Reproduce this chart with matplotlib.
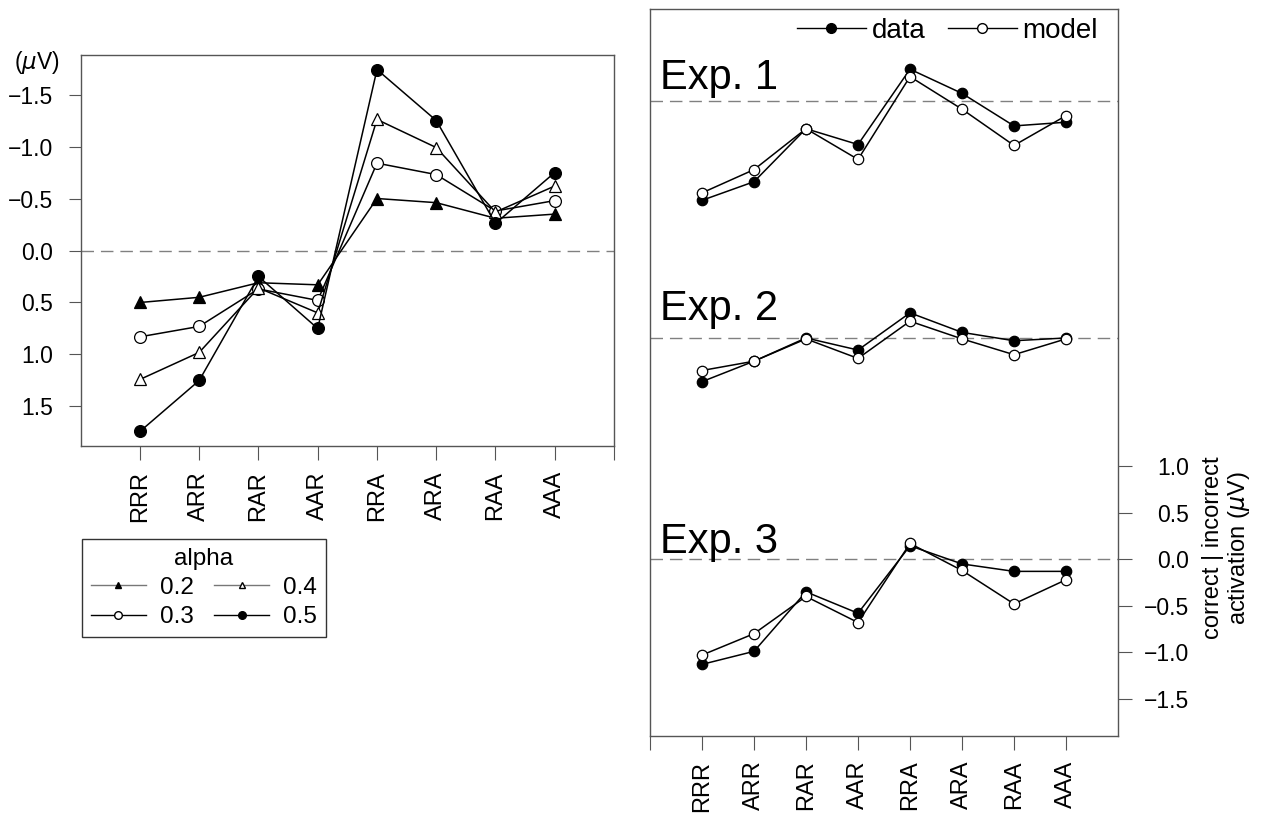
import matplotlib
matplotlib.use('Agg')
import matplotlib.pyplot as plt
from matplotlib.lines import Line2D
import numpy as np

plt.rcParams['font.family'] = ['Liberation Sans', 'DejaVu Sans']
plt.rcParams['mathtext.fontset'] = 'dejavusans'

# ---------------- data ----------------
conditions = ['RRR', 'ARR', 'RAR', 'AAR', 'RRA', 'ARA', 'RAA', 'AAA']
alpha_levels = ['0.2', '0.3', '0.4', '0.5']
alpha02 = [0.50, 0.45, 0.31, 0.33, -0.50, -0.46, -0.31, -0.35]
alpha03 = [0.83, 0.73, 0.37, 0.48, -0.84, -0.73, -0.38, -0.48]
alpha04 = [1.24, 0.98, 0.36, 0.60, -1.26, -0.99, -0.37, -0.62]
alpha05 = [1.74, 1.25, 0.25, 0.75, -1.74, -1.25, -0.26, -0.75]

exp_names = ['Exp. 1', 'Exp. 2', 'Exp. 3']
exp1_data = [-1.07, -0.87, -0.30, -0.47, 0.34, 0.08, -0.27, -0.23]
exp1_model = [-0.99, -0.74, -0.30, -0.63, 0.26, -0.09, -0.48, -0.16]
exp2_data = [-0.47, -0.25, 0.00, -0.13, 0.27, 0.06, -0.03, 0.00]
exp2_model = [-0.35, -0.25, -0.01, -0.22, 0.18, -0.01, -0.18, -0.01]
exp3_data = [-1.13, -0.99, -0.35, -0.58, 0.145, -0.05, -0.13, -0.13]
exp3_model = [-1.03, -0.80, -0.40, -0.68, 0.17, -0.12, -0.48, -0.22]

# vertical offsets of the stacked experiments (layout)
exp_offsets = [4.93, 2.38, 0.0]
exp_label_y = [5.06, 2.57, 0.07]

W, H = 1267, 813
fig = plt.figure(figsize=(W / 100, H / 100), dpi=100)

spine_col = '#555555'
dash_col = '#808080'
FS_Y = 16.5
FS_X = 17
FS_LEG = 17.5
x = np.arange(1, len(conditions) + 1)

# ---------------- left panel ----------------
ax1 = fig.add_axes([80.7 / W, 1 - 446 / H, (614 - 80.7) / W, (446 - 55) / H])
ax1.set_xlim(0, 9)
ax1.set_ylim(1.88, -1.88)
ax1.axhline(0, color=dash_col, lw=1.0, dashes=(9, 5), zorder=1)

series = [alpha02, alpha03, alpha04, alpha05]
styles = [
    dict(marker='^', mfc='black', mec='black', ms=8),
    dict(marker='o', mfc='white', mec='black', ms=8.5),
    dict(marker='^', mfc='white', mec='black', ms=8),
    dict(marker='o', mfc='black', mec='black', ms=8.5),
]
for vals, st in zip(series, styles):
    ax1.plot(x, vals, color='black', lw=1.1, mew=0.9, zorder=3, **st)

ax1.set_xticks(list(x) + [9])
ax1.set_xticklabels(conditions + [''], rotation=90, fontsize=FS_X)
yt = [-1.5, -1.0, -0.5, 0.0, 0.5, 1.0, 1.5]
ax1.set_yticks(yt)
ax1.set_yticklabels([f'{v:.1f}'.replace('-', '\u2212') for v in yt])
ax1.tick_params(axis='x', length=10, color=spine_col, pad=8)
ax1.tick_params(axis='y', length=9, color=spine_col, pad=11, labelsize=FS_Y)
for s in ax1.spines.values():
    s.set_color(spine_col)
    s.set_linewidth(1.0)
fig.text(37 / W, 1 - 62 / H, r'($\mu$V)', fontsize=FS_Y, ha='center', va='center')

# legend for alpha
leg_handles = [
    Line2D([], [], color='#777777', lw=1, marker='^', mfc='black', mec='black', ms=5),
    Line2D([], [], color='black', lw=1, marker='o', mfc='white', mec='black', ms=5.5),
    Line2D([], [], color='#777777', lw=1, marker='^', mfc='white', mec='black', ms=5),
    Line2D([], [], color='black', lw=1, marker='o', mfc='black', mec='black', ms=5.5),
]
leg = fig.legend(leg_handles, alpha_levels, title='alpha', ncol=2,
                 loc='upper left', bbox_to_anchor=(82 / W, 1 - 539 / H),
                 fontsize=FS_LEG, title_fontsize=FS_LEG, frameon=True, fancybox=False,
                 edgecolor='black', handlelength=2.3, handletextpad=0.57,
                 columnspacing=0.8, borderpad=0.35, labelspacing=0.3,
                 borderaxespad=0)
leg.get_frame().set_linewidth(1.0)

# ---------------- right panel ----------------
ax2 = fig.add_axes([650 / W, 1 - 735.7 / H, (1118 - 650) / W, (735.7 - 9.3) / H])
ax2.set_xlim(0, 9)
ax2.set_ylim(-1.897, 5.914)

exp_data = [exp1_data, exp2_data, exp3_data]
exp_model = [exp1_model, exp2_model, exp3_model]
for name, d, m, off, ly in zip(exp_names, exp_data, exp_model, exp_offsets, exp_label_y):
    ax2.axhline(off, color=dash_col, lw=1.0, dashes=(9, 5), zorder=1)
    ax2.plot(x, np.array(d) + off, color='black', lw=1.1, marker='o', mfc='black',
             mec='black', ms=7.5, mew=0.9, zorder=3)
    ax2.plot(x, np.array(m) + off, color='black', lw=1.1, marker='o', mfc='white',
             mec='black', ms=7.5, mew=0.9, zorder=4)
    ax2.text(0.2, ly, name, fontsize=30, ha='left', va='baseline')

ax2.set_xticks(list(range(0, 9)))
ax2.set_xticklabels([''] + conditions, rotation=90, fontsize=FS_X)
ax2.tick_params(axis='x', length=10, color=spine_col, pad=8)
ax2.yaxis.tick_right()
rt = [-1.5, -1.0, -0.5, 0.0, 0.5, 1.0]
ax2.set_yticks(rt)
ax2.set_yticklabels([f'{v:.1f}'.replace('-', '\u2212') for v in rt])
ax2.tick_params(axis='y', length=10, color=spine_col, pad=41, labelsize=FS_Y)
for lbl in ax2.get_yticklabels():
    lbl.set_horizontalalignment('right')
for s in ax2.spines.values():
    s.set_color(spine_col)
    s.set_linewidth(1.0)

fig.text(1227 / W, 1 - 548 / H, 'correct | incorrect\nactivation ($\\mu$V)',
         rotation=90, fontsize=FS_X, ha='center', va='center', multialignment='center',
         linespacing=1.1)

# data / model legend
dm_handles = [
    Line2D([], [], color='black', lw=1, marker='o', mfc='black', mec='black', ms=7),
    Line2D([], [], color='black', lw=1, marker='o', mfc='white', mec='black', ms=7),
]
fig.legend(dm_handles, ['data', 'model'], ncol=2, loc='center right',
           bbox_to_anchor=(1098 / W, 1 - 31 / H), frameon=False, fontsize=20,
           handlelength=2.5, handletextpad=0.2, columnspacing=0.8,
           borderpad=0, borderaxespad=0)

fig.savefig('out.png', dpi=100)
